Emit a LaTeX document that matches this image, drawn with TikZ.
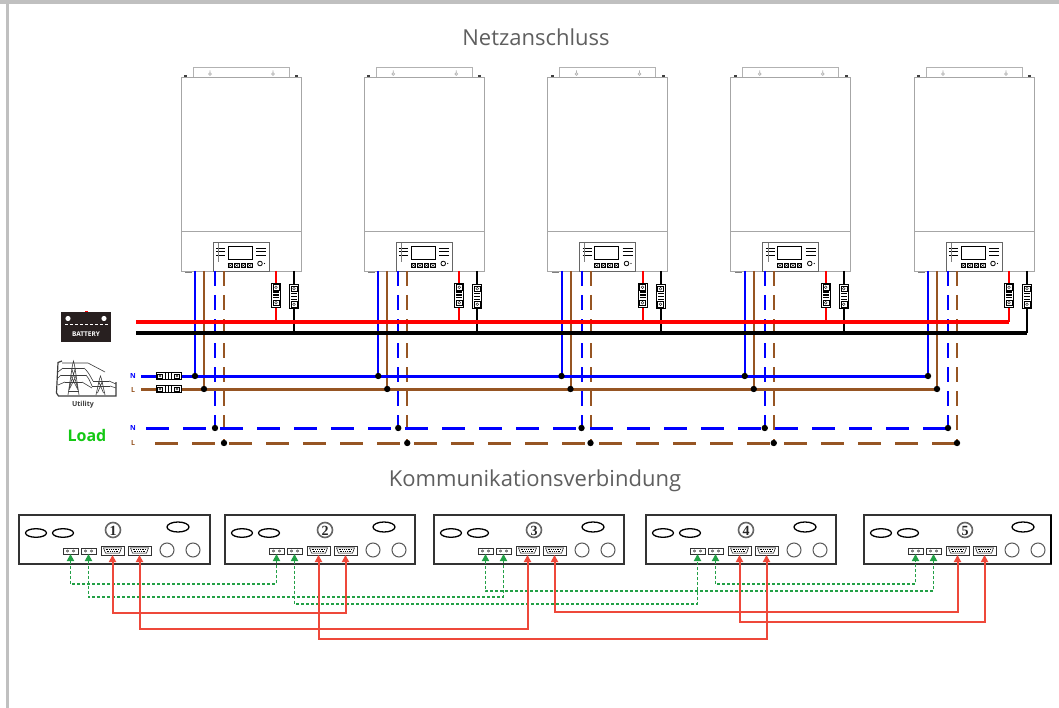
\documentclass[tikz,border=0pt]{standalone}
\usepackage{fontspec}
\setmainfont{Open Sans}
\newfontfamily\digitfont{Liberation Serif}
\usetikzlibrary{arrows.meta,calc}

\definecolor{wblue}{RGB}{0,0,255}
\definecolor{wbrown}{RGB}{150,85,35}
\definecolor{wred}{RGB}{255,0,0}
\definecolor{lred}{RGB}{238,72,58}
\definecolor{lgreen}{RGB}{34,160,70}
\definecolor{framegray}{RGB}{192,192,192}
\definecolor{titlegray}{RGB}{95,95,95}
\definecolor{loadgreen}{RGB}{20,200,20}
\definecolor{battfill}{RGB}{40,32,32}
\definecolor{icongray}{RGB}{60,60,60}

\tikzset{
  every node/.style={inner sep=0pt, outer sep=0pt},
  invbody/.style={draw=gray!70, line width=0.7, fill=white},
  invline/.style={draw=gray!70, line width=0.7},
  bracket/.style={draw=gray!60, line width=0.7},
  ctrl/.style={draw=gray!80!black, line width=0.8},
  wire/.style={line width=2},
  bus/.style={line width=4},
  feed/.style={line width=3},
  dashv/.style={line width=2, dash pattern=on 15pt off 9pt},
  dashh/.style={line width=3, dash pattern=on 23pt off 14pt},
  titletext/.style={font=\fontsize{22}{24}\selectfont, text=titlegray},
  lbl/.style={font=\bfseries\fontsize{7}{7}\selectfont},
  panelbox/.style={draw=gray!40!black, line width=1.1, fill=white},
  gport/.style={draw=gray!40!black, line width=0.7, minimum width=15pt, minimum height=6pt},
  sport/.style={draw=gray!40!black, line width=0.8, minimum width=23pt, minimum height=9pt},
  glink/.style={lgreen, line width=1.7, dash pattern=on 3pt off 2pt,
    {Triangle[length=7pt,width=7pt]}-{Triangle[length=7pt,width=7pt]}},
  rlink/.style={lred, line width=2,
    {Triangle[length=7pt,width=7pt]}-{Triangle[length=7pt,width=7pt]}},
  vbreaker/.pic={
    \draw[fill=white, line width=0.8] (-4.5,-12) rectangle (4.5,12);
    \draw[line width=0.5] (-3,-10.5) rectangle (3,-5);
    \draw[line width=0.4] (0,-7.75) circle (1.3);
    \draw[line width=0.5] (-3,5) rectangle (3,10.5);
    \draw[line width=0.4] (0,7.75) circle (1.3);
    \fill (-3,-3.5) rectangle (3,-2.3);
    \fill (-3,-0.6) rectangle (3,0.6);
    \fill (-3,2.3) rectangle (3,3.5);
  },
  hbreaker/.pic={
    \draw[fill=white, line width=0.9] (-12.5,-3.5) rectangle (12.5,3.5);
    \draw[line width=0.5] (-11,-2.2) rectangle (-6,2.2);
    \draw[line width=0.4] (-8.5,0) circle (1.2);
    \draw[line width=0.5] (6,-2.2) rectangle (11,2.2);
    \draw[line width=0.4] (8.5,0) circle (1.2);
    \fill (-3.5,-3) rectangle (-2.3,3);
    \fill (-0.6,-3) rectangle (0.6,3);
    \fill (2.3,-3) rectangle (3.5,3);
  }
}

\begin{document}
\begin{tikzpicture}[x=1pt,y=-1pt]
\useasboundingbox (0,0) rectangle (1059,708);
\fill[white] (0,0) rectangle (1059,708);

% page frame
\fill[framegray] (0,0) rectangle (1059,4.5);
\fill[framegray] (6,0) rectangle (8.5,708);

\node[titletext] (title1) at (536,37) {Netzanschluss};

% ---------------- inverters ----------------
\foreach \i in {1,...,5}{
  \pgfmathsetmacro{\L}{181+183.25*(\i-1)}
  % wall bracket
  \draw[bracket] (\L+12,77) |- (\L+108,67.5) -- (\L+108,77);
  \draw[bracket] (\L+29,74) circle (1.4) (\L+29,72.6) -- (\L+29,70.5);
  \draw[bracket] (\L+92,74) circle (1.4) (\L+92,72.6) -- (\L+92,70.5);
  % housing
  \node[invbody, anchor=north west, minimum width=120pt, minimum height=194pt] (inv\i) at (\L,77) {};
  \fill[gray!50!black] (\L+3,75.5) rectangle (\L+6,77.5);
  \fill[gray!50!black] (\L+114,75.5) rectangle (\L+117,77.5);
  \draw[invline] (\L,231) -- (\L+120,231);
  % control panel
  \node[ctrl, anchor=north west, minimum width=56pt, minimum height=29pt] (ctrl\i) at (\L+32,242) {};
  \draw[line width=0.7] (\L+47,246) rectangle (\L+71,259);
  \foreach \yy in {248,251.5,255}{
    \draw[line width=0.7] (\L+35,\yy) -- (\L+44,\yy);
    \draw[line width=0.7] (\L+75,\yy) -- (\L+85,\yy);
  }
  \draw[gray, line width=0.4] (\L+37,243) -- (\L+37,262);
  \foreach \bx in {47,53.5,60,66.5}{
    \draw[line width=0.6] (\L+\bx,263.5) rectangle ++(4.5,4);
    \draw[line width=0.4] (\L+\bx,263.5) -- ++(4.5,4) (\L+\bx+4.5,263.5) -- ++(-4.5,4);
  }
  \draw[line width=0.8] (\L+79,263.5) circle (2.3);
  \fill (\L+83.5,263.5) circle (0.6);
  \fill[gray] (\L+4,272) rectangle (\L+11,273.2);
  % junction points
  \coordinate (jn\i) at (\L+14,376);
  \coordinate (jl\i) at (\L+23,389);
  \coordinate (ln\i) at (\L+34,428);
  \coordinate (ll\i) at (\L+43,443);
  \coordinate (rb\i) at (\L+95,322);
  \coordinate (bb\i) at (\L+113,333);
  % AC wiring
  \draw[wire, wblue] ([xshift=14pt]inv\i.south west) -- (jn\i);
  \draw[wire, wbrown] ([xshift=23pt]inv\i.south west) -- (jl\i);
  \draw[dashv, wblue] ([xshift=34pt]inv\i.south west) -- (ln\i);
  \draw[dashv, wbrown] ([xshift=43pt]inv\i.south west) -- (ll\i);
  % DC wiring
  \draw[wire, wred] ([xshift=95pt]inv\i.south west) -- (rb\i);
  \draw[wire, black] ([xshift=113pt]inv\i.south west) -- (bb\i);
}

% ---------------- busbars and lines ----------------
\coordinate (busstart) at (136,322);
\coordinate (busstartb) at (136,333);
\draw[bus, wred] (busstart) -- (rb5);
\draw[bus, black] (busstartb) -- (bb5);
\coordinate (ustartn) at (141,376);
\coordinate (ustartl) at (141,389);
\draw[feed, wblue] (ustartn) -- (jn5);
\draw[feed, wbrown] (ustartl) -- (jl5);
\coordinate (lstartn) at (146,428);
\coordinate (lstartl) at (155,443);
\draw[dashh, wblue] (lstartn) -- (ln5);
\draw[dashh, wbrown] (lstartl) -- (ll5);

\foreach \i in {1,...,5}{
  \pgfmathsetmacro{\L}{181+183.25*(\i-1)}
  \foreach \c in {jn,jl,ln,ll}{ \fill[black] (\c\i) circle (3.2); }
  \pic at (\L+95,295) {vbreaker};
  \pic at (\L+113,296.5) {vbreaker};
}
\pic at (168.5,376) {hbreaker};
\pic at (168.5,389) {hbreaker};

% ---------------- battery ----------------
\node[fill=battfill, minimum width=50pt, minimum height=30pt] (battery) at (86,327) {};
\fill[red] (85,310.5) rectangle (88,312);
\fill[white] (68,318.5) circle (2.6) (104,318.5) circle (2.6);
\draw[white, line width=1, dash pattern=on 3pt off 2pt] (65,324.5) -- (108,324.5);
\node[text=white, font=\bfseries\fontsize{6.5}{7}\selectfont] (battlbl) at (86,334) {BATTERY};

% ---------------- utility ----------------
\begin{scope}[shift={(55,360)}, icongray, line width=0.6]
  \draw[line width=1.2] (7,1) -- (3,2.5) -- (1.5,33) -- (3.5,36) -- (61,36) -- (61,22);
  % large tower
  \draw (13,35) -- (17.5,5) -- (18.5,1) -- (19.5,5) -- (24,35);
  \draw (8,8) -- (29,8) (6,15) -- (31,15) (10,22) -- (27,22);
  \draw (16.5,8) -- (22.8,28) (20.5,8) -- (14.2,28) (15.5,15) -- (23,30) (21.5,15) -- (14,30);
  \draw (13.5,31) -- (23.5,31);
  % small tower
  \draw (41,35) -- (44.5,19) -- (45.5,16) -- (46.5,19) -- (50,35);
  \draw (38,21) -- (54,21) (37,26) -- (55,26);
  \draw (43.5,21) -- (48.5,33) (47.5,21) -- (42.5,33);
  % conductors
  \draw (3,12) -- (8,8) (3,18) -- (6,15) (3,25) -- (10,22);
  \draw (29,8) .. controls (33,12) .. (38,21);
  \draw (31,15) .. controls (34,19) .. (37,26);
  \draw (27,22) -- (37,28);
  \draw (54,21) -- (61,24) (55,26) -- (61,28);
  \draw (7,3) -- (33,3) (33,3) -- (50,12);
\end{scope}
\node[text=icongray, font=\bfseries\fontsize{7}{7}\selectfont] (utillbl) at (83,404.5) {Utility};

% line labels
\node[lbl, text=wblue] (lblun) at (133,376.5) {N};
\node[lbl, text=wbrown] (lblul) at (133,390) {L};
\node[lbl, text=wblue] (lblln) at (133,428) {N};
\node[lbl, text=wbrown] (lblll) at (133,443) {L};
\node[text=loadgreen, font=\bfseries\fontsize{16}{16}\selectfont] (loadlbl) at (87,435) {Load};

% ---------------- communication ----------------
\node[titletext] (title2) at (535,481) {Kommunikationsverbindung};

\foreach \P/\w/\nx/\k in {19/191/94/1, 225/190/100/2, 434/190/100/3, 646/190/100/4, 864/187/101/5}{
  \node[panelbox, anchor=north west, minimum width={\w*1pt}, minimum height=49pt] (panel\k) at (\P,515) {};
  \draw[line width=1.3] (\P+17,533) ellipse (10.5 and 4.3);
  \draw[line width=1.3] (\P+44,533) ellipse (10.5 and 4.3);
  \draw[line width=1.3] (\P+159,527) ellipse (11 and 5);
  \draw[gray!70!black, line width=1] (\P+148,550) circle (7);
  \draw[gray!70!black, line width=1] (\P+174,550) circle (7);
  \draw[gray!80!black, line width=1.6] (\P+\nx,530) circle (7.5);
  \node[font=\digitfont\bfseries\fontsize{14}{14}\selectfont, text=gray!30!black] (num\k) at (\P+\nx,530.8) {\k};
  % parallel ports
  \node[gport] (ga\k) at (\P+51.5,551) {};
  \node[gport] (gb\k) at (\P+69.5,551) {};
  \foreach \gx in {51.5,69.5}{
    \draw[line width=0.4] (\P+\gx-3,551) circle (1.1) (\P+\gx+3,551) circle (1.1);
  }
  % current sharing ports
  \node[sport] (sa\k) at (\P+93.5,550.5) {};
  \node[sport] (sb\k) at (\P+120.5,550.5) {};
  \foreach \sx in {93.5,120.5}{
    \draw[line width=0.5] (\P+\sx-9,547.8) -- (\P+\sx+9,547.8) -- (\P+\sx+7,553.2) -- (\P+\sx-7,553.2) -- cycle;
    \draw[line width=0.8, dash pattern=on 0.8pt off 1pt] (\P+\sx-7,549.6) -- (\P+\sx+7,549.6);
    \draw[line width=0.8, dash pattern=on 0.8pt off 1pt] (\P+\sx-6,551.6) -- (\P+\sx+6,551.6);
  }
}
\draw[line width=2] (1051,515) -- (1051,564);

% parallel communication links
\draw[glink] (ga1.south) -- (ga1.south |- 0,584) -| (ga2.south);
\draw[glink] (gb1.south) -- (gb1.south |- 0,597) -| (gb3.south);
\draw[glink] (gb2.south) -- (gb2.south |- 0,604) -| (ga4.south);
\draw[glink] (ga3.south) -- (ga3.south |- 0,591) -| (gb5.south);
\draw[glink] (gb4.south) -- (gb4.south |- 0,584) -| (ga5.south);

% current sharing links
\draw[rlink] (sa1.south) -- (sa1.south |- 0,613) -| (sb2.south);
\draw[rlink] (sb1.south) -- (sb1.south |- 0,629) -| (sa3.south);
\draw[rlink] (sa2.south) -- (sa2.south |- 0,639) -| (sb4.south);
\draw[rlink] (sb3.south) -- (sb3.south |- 0,612) -| (sa5.south);
\draw[rlink] (sa4.south) -- (sa4.south |- 0,622) -| (sb5.south);

\end{tikzpicture}
\end{document}
